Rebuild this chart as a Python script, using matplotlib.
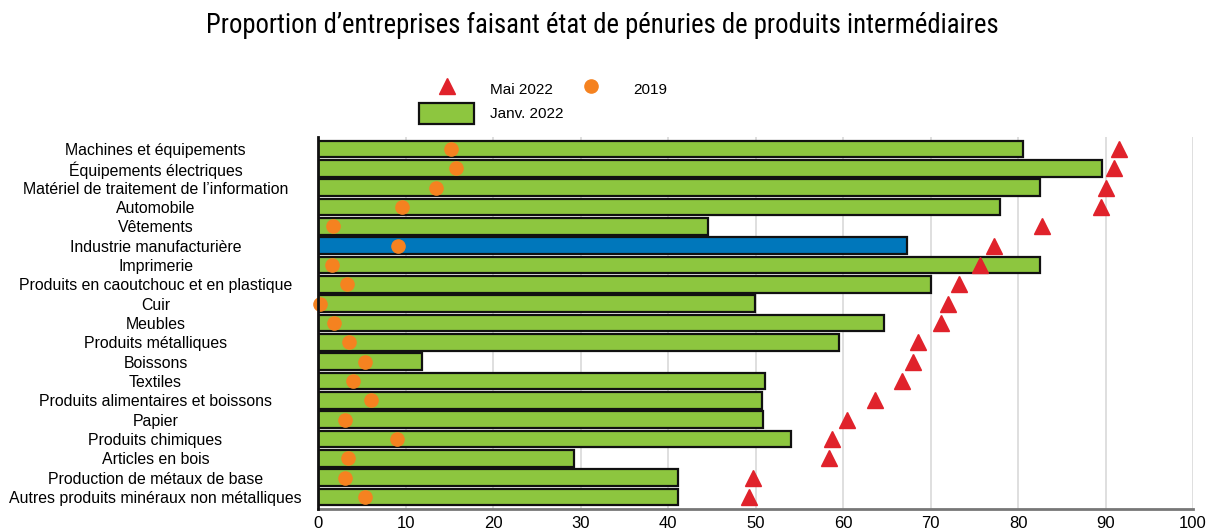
import numpy as np
import matplotlib.pyplot as plt
from matplotlib.patches import Patch
from matplotlib.lines import Line2D

categories = [
    "Machines et équipements",
    "Équipements électriques",
    "Matériel de traitement de l’information",
    "Automobile",
    "Vêtements",
    "Industrie manufacturière",
    "Imprimerie",
    "Produits en caoutchouc et en plastique",
    "Cuir",
    "Meubles",
    "Produits métalliques",
    "Boissons",
    "Textiles",
    "Produits alimentaires et boissons",
    "Papier",
    "Produits chimiques",
    "Articles en bois",
    "Production de métaux de base",
    "Autres produits minéraux non métalliques",
]
janv_2022 = [80.6, 89.6, 82.5, 77.9, 44.6, 67.3, 82.5, 70.0, 49.9, 64.7,
             59.5, 11.9, 51.1, 50.7, 50.8, 54.1, 29.3, 41.1, 41.1]
mai_2022 = [91.5, 91.0, 90.0, 89.5, 82.7, 77.2, 75.6, 73.3, 72.0, 71.2,
            68.6, 68.0, 66.7, 63.7, 60.4, 58.7, 58.4, 49.7, 49.3]
an_2019 = [15.2, 15.8, 13.5, 9.6, 1.7, 9.1, 1.6, 3.3, 0.2, 1.8,
           3.5, 5.4, 4.0, 6.1, 3.1, 9.0, 3.4, 3.1, 5.4]
highlight = "Industrie manufacturière"

green = "#8dc63f"
blue = "#0077bb"
red = "#e0222b"
orange = "#f58220"

plt.rcParams['font.family'] = ['Liberation Sans', 'DejaVu Sans']

fig = plt.figure(figsize=(12.1, 5.32), dpi=100)
ax = fig.add_axes([318 / 1210, 1 - 509 / 532, 875 / 1210, 372 / 532])

y = np.arange(len(categories))
colors = [blue if c == highlight else green for c in categories]
ax.barh(y, janv_2022, height=0.86, color=colors, edgecolor="#111111",
        linewidth=1.6, zorder=2)
ax.plot(mai_2022, y, linestyle="none", marker="^", markersize=12,
        color=red, zorder=3)
ax.plot(an_2019, y, linestyle="none", marker="o", markersize=9.5,
        color=orange, zorder=3, clip_on=False)

ax.set_xlim(0, 100)
ax.set_ylim(len(categories) - 0.38, -0.62)
ax.set_xticks(np.arange(0, 101, 10))
ax.set_yticks(y)
ax.set_yticklabels(categories, ha="center", fontsize=11.4)
ax.tick_params(axis="y", length=0, pad=117)
ax.tick_params(axis="x", length=0, pad=5, labelsize=12)
ax.grid(axis="x", color="#d9d9d9", linewidth=1.2, zorder=0)
ax.set_axisbelow(True)
for s in ["top", "right"]:
    ax.spines[s].set_visible(False)
ax.spines["left"].set_color("#111111")
ax.spines["left"].set_linewidth(2)
ax.spines["left"].set_zorder(4)
ax.spines["bottom"].set_color("#777777")
ax.spines["bottom"].set_linewidth(2)

fig.text(0.498, 0.952, "Proportion d’entreprises faisant état de pénuries de produits intermédiaires",
         ha="center", va="center", fontsize=19.3,
         family=["Liberation Sans Narrow", "Roboto Condensed", "Archivo Narrow",
                 "Barlow Semi Condensed", "DejaVu Sans"])

handles = [
    Line2D([], [], linestyle="none", marker="^", markersize=12, color=red),
    Patch(facecolor=green, edgecolor="#111111", linewidth=1.6),
    Line2D([], [], linestyle="none", marker="o", markersize=9.5, color=orange),
]
labels = ["Mai 2022", "Janv. 2022", "2019"]
fig.legend(handles, labels, ncol=2, frameon=False, fontsize=11,
           loc="upper center", bbox_to_anchor=(0.449, 0.878),
           handlelength=3.6, handleheight=1.7, labelspacing=0.25,
           columnspacing=0.0, handletextpad=1.0)

fig.savefig("out.png", dpi=100)
